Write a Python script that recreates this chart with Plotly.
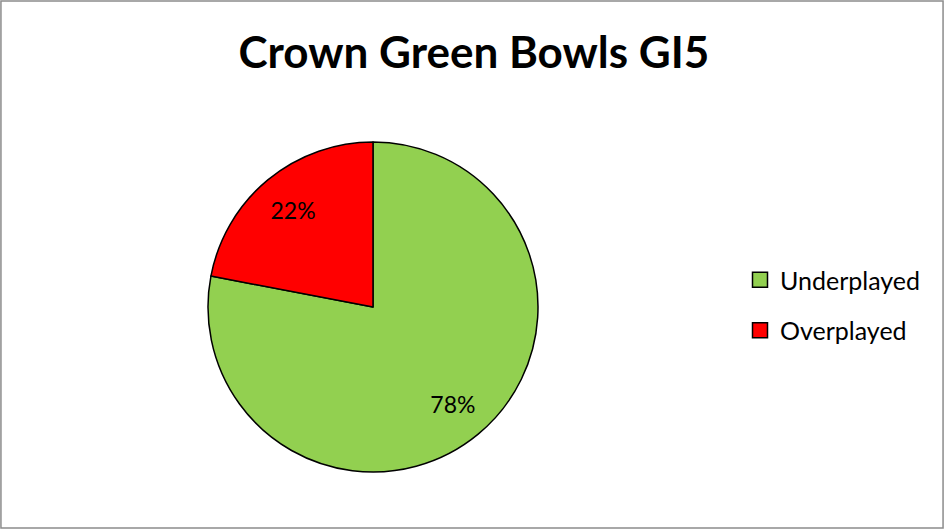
import plotly.graph_objects as go

labels = ["Underplayed", "Overplayed"]
values = [78, 22]
colors = ["#92D050", "#FF0000"]
title_text = "Crown Green Bowls GI5"

W, H = 944, 529
FONT = "Lato, Open Sans, sans-serif"
pie_domain = dict(x=[208 / W, 538 / W], y=[1 - 472 / H, 1 - 142 / H])

fig = go.Figure()

# the pie itself (slices + outlines)
fig.add_trace(go.Pie(
    labels=labels, values=values, sort=False, direction="clockwise", rotation=0,
    marker=dict(colors=colors, line=dict(color="black", width=1.5)),
    textinfo="none", domain=pie_domain, hoverinfo="skip", showlegend=False,
))

# transparent ring used only to place percentage labels further out
fig.add_trace(go.Pie(
    labels=labels, values=values, sort=False, direction="clockwise", rotation=0,
    hole=0.52,
    marker=dict(colors=["rgba(0,0,0,0)"] * len(labels), line=dict(width=0)),
    texttemplate="%{percent:.0%}", textposition="inside",
    insidetextorientation="horizontal",
    textfont=dict(family=FONT, size=23, color="black"),
    domain=pie_domain, hoverinfo="skip", showlegend=False,
))

# legend entries
for lab, col in zip(labels, colors):
    fig.add_trace(go.Scatter(
        x=[None], y=[None], mode="markers", name=lab, legendgroup=lab,
        marker=dict(symbol="square", size=15, color=col, line=dict(color="black", width=1.5)),
    ))

fig.update_layout(
    width=W, height=H,
    margin=dict(l=0, r=0, t=0, b=0),
    paper_bgcolor="white",
    plot_bgcolor="white",
    xaxis=dict(visible=False), yaxis=dict(visible=False),
    title=dict(text="<b>" + title_text + "</b>", x=0.502, y=1 - 53 / H,
               xanchor="center", yanchor="middle",
               font=dict(family=FONT, size=44, color="black")),
    legend=dict(x=740 / W, y=1 - 305 / H, xanchor="left", yanchor="middle",
                font=dict(family=FONT, size=25, color="black"),
                itemwidth=30, tracegroupgap=15, bgcolor="rgba(0,0,0,0)"),
    shapes=[dict(type="rect", xref="paper", yref="paper", x0=0.001, x1=0.999, y0=0.002, y1=0.998,
                 line=dict(color="#8c8c8c", width=1.5))],
)

fig.write_html("out.html", config={"displayModeBar": False},
               post_script="document.body.style.margin='0';")
